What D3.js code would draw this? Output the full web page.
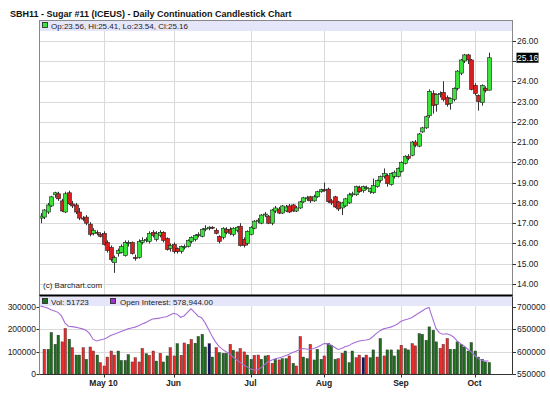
<!DOCTYPE html>
<html><head><meta charset="utf-8">
<script src="https://cdn.jsdelivr.net/npm/d3@7"></script>
<style>
body{margin:0;background:#fff}
svg{display:block}
text{font-family:"Liberation Sans",Arial,sans-serif}
</style>
</head><body>
<svg id="chart" width="550" height="394"></svg>
<script>
// ---------- DATA ----------
const opens  = [17.25,17.3,17.55,17.85,18.4,18.45,18.1,17.55,18.5,17.95,17.9,17.55,17.25,17.3,16.95,16.5,16.55,16.45,16.5,16.05,
15.8,15.05,15.5,15.55,15.4,16.0,16.05,15.3,15.3,16.05,16.15,16.1,16.55,16.2,16.4,16.55,16.25,15.75,15.95,15.75,
15.6,15.8,15.85,16.1,16.2,16.4,16.35,16.7,16.75,16.8,16.65,16.35,16.3,16.7,16.7,16.45,16.65,16.85,16.2,16.0,
16.45,16.75,17.1,17.0,17.4,17.35,17.0,17.6,17.7,17.5,17.6,17.85,17.9,17.6,17.75,18.05,18.2,18.3,18.1,18.3,
18.55,18.65,18.68,18.1,18.3,18.05,17.75,17.85,18.0,18.4,18.4,18.75,18.6,18.75,18.55,18.5,18.8,19.1,19.3,19.35,
18.9,19.3,19.3,19.55,19.95,20.3,20.35,21.0,20.8,21.5,21.7,22.3,23.4,22.85,23.35,23.45,23.2,22.9,23.1,23.65,
24.4,25.0,25.3,25.05,23.8,23.3,22.95,23.65,23.56];
const highs  = [17.5,17.7,18.0,18.35,18.55,18.55,18.2,18.55,18.6,18.1,18.0,17.75,17.35,17.4,17.05,16.75,16.65,16.55,16.6,16.15,
15.9,15.4,15.75,15.95,16.15,16.15,16.1,15.45,16.2,16.3,16.3,16.6,16.65,16.6,16.65,16.6,16.3,16.0,16.05,15.8,
15.9,15.95,16.2,16.35,16.45,16.55,16.75,16.9,16.85,16.85,16.75,16.4,16.8,16.8,16.8,16.8,16.85,17.0,16.3,16.65,
16.85,17.15,17.25,17.45,17.55,17.4,17.7,17.85,17.8,17.9,17.9,17.95,17.95,17.85,18.1,18.3,18.35,18.35,18.4,18.6,
18.7,19.0,18.75,18.2,18.35,18.1,18.05,18.25,18.5,18.55,18.85,18.85,18.85,18.85,18.75,19.2,19.15,19.35,19.7,19.45,
19.5,19.6,19.75,20.05,20.35,20.4,21.05,21.1,21.45,21.75,22.3,23.6,23.55,23.4,23.5,24.0,23.3,23.2,23.7,24.55,
25.1,25.35,25.35,25.1,23.9,23.35,23.85,23.75,25.41];
const lows   = [17.0,17.2,17.45,17.8,18.25,18.1,17.55,17.5,17.9,17.75,17.45,17.15,17.1,16.9,16.35,16.4,16.4,16.3,15.9,15.55,
15.1,14.55,15.35,15.5,15.35,15.85,15.45,15.15,15.25,15.95,16.05,16.0,16.3,16.1,16.3,16.05,15.65,15.6,15.5,15.5,
15.5,15.7,15.8,16.0,16.1,16.3,16.3,16.6,16.65,16.7,16.45,16.0,16.2,16.45,16.4,16.35,16.55,15.85,15.8,15.9,
16.4,16.7,17.0,16.95,17.3,16.95,16.9,17.5,17.45,17.45,17.55,17.5,17.55,17.55,17.7,18.0,18.1,18.0,18.05,18.25,
18.5,18.55,18.0,17.9,17.75,17.6,17.4,17.8,17.95,18.3,18.35,18.5,18.5,18.65,18.45,18.45,18.75,19.0,19.2,18.8,
18.85,19.2,19.25,19.5,19.9,20.1,20.3,20.75,20.75,21.45,21.65,22.2,22.4,22.5,23.2,23.0,22.75,22.6,23.0,23.55,
24.3,24.9,24.85,23.55,23.3,22.55,22.8,23.45,23.54];
const closes = [17.35,17.65,17.9,18.3,18.5,18.2,17.6,18.45,17.95,17.85,17.55,17.25,17.2,17.0,16.45,16.65,16.5,16.35,15.95,15.65,
15.2,15.3,15.65,15.85,16.05,16.05,15.5,15.25,16.1,16.15,16.2,16.5,16.4,16.5,16.55,16.15,15.7,15.9,15.6,15.6,
15.85,15.85,16.15,16.3,16.4,16.45,16.7,16.75,16.8,16.78,16.5,16.1,16.75,16.55,16.5,16.75,16.8,15.9,15.9,16.6,
16.8,17.1,17.15,17.4,17.45,17.0,17.65,17.75,17.5,17.85,17.8,17.55,17.6,17.75,18.05,18.25,18.25,18.1,18.3,18.55,
18.65,18.62,18.06,18.0,17.8,17.7,18.0,18.2,18.4,18.45,18.8,18.55,18.8,18.75,18.7,18.85,19.1,19.3,19.45,18.95,
19.45,19.5,19.7,20.0,20.3,20.2,21.0,20.85,21.4,21.7,22.25,23.5,22.8,23.35,23.4,23.1,22.85,23.15,23.65,24.5,
25.05,25.3,25.05,23.6,23.4,23.0,23.8,23.55,25.16];
// volume per bar (first bar has none); colour code: g = up, r = down, b = unchanged
const volumes = [null,111000,111000,186000,133000,174000,144000,204000,156000,118000,85000,85000,118000,66000,121000,103000,85000,51000,36000,76000,
103000,85000,103000,61000,61000,87000,54000,73000,54000,115000,91000,84000,103000,58000,93000,54000,81000,118000,81000,136000,
84000,139000,133000,155000,138000,168000,178000,121000,136000,76000,118000,96000,93000,93000,133000,106000,99000,114000,99000,85000,
66000,84000,85000,66000,81000,84000,48000,66000,63000,69000,69000,81000,48000,36000,168000,76000,69000,133000,63000,111000,
66000,81000,138000,129000,66000,69000,93000,103000,51000,103000,73000,85000,73000,85000,73000,108000,76000,159000,81000,108000,
108000,81000,108000,129000,114000,108000,136000,126000,181000,178000,151000,211000,196000,144000,115000,133000,159000,111000,111000,144000,
133000,121000,103000,141000,103000,76000,66000,54000,51723];
const volColors = "-rggggrrgrggrgrrgrrrrrggggrrrrgrrgrggrrgrrgrggggbgrgggrgrrrggrrggrrgrggrgrrggrgggrgggrrgggrrbrggrgrggggrggrrggggggrrrggg";
const openInterest = [702000,700000,698000,694000,691000,688000,680000,664000,657000,656000,655000,653000,651000,648000,641000,628000,624000,626000,628000,631000,
636000,639000,642000,645000,648000,651000,653000,655000,658000,662000,665000,669000,673000,674000,675000,677000,678000,682000,686000,684000,
677000,680000,688000,696000,688000,680000,676000,665000,650000,635000,622000,612000,605000,600000,596000,588000,582000,576000,570000,566000,
561000,559000,559000,564000,571000,577000,581000,584000,586000,588000,591000,594000,598000,601000,605000,607000,606000,605000,607000,610000,
614000,618000,618000,615000,610000,605000,607000,611000,613000,618000,621000,624000,625000,626000,628000,634000,641000,647000,651000,653000,
655000,658000,662000,668000,671000,673000,676000,681000,686000,691000,696000,699000,675000,652000,642000,639000,640000,638000,633000,624000,
618000,613000,606000,600000,592000,585000,581000,579000,578944];
const monthTickIndex = [18,38,60,81,103,124];
const monthTickLabels = ["May 10","Jun","Jul","Aug","Sep","Oct"];
const priceTicks = [14,15,16,17,18,19,20,21,22,23,24,25,26];
const volumeTicks = [0,100000,200000,300000];
const oiTicks = [550000,600000,650000,700000];
const titleText = "SBH11 - Sugar #11 (ICEUS) - Daily Continuation Candlestick Chart";
const ohlcLegend = "Op:23.56, Hi:25.41, Lo:23.54, Cl:25.16";
const volLegend = "Vol: 51723";
const oiLegend = "Open Interest: 578,944.00";
const lastPrice = 25.16;

// ---------- LAYOUT ----------
const svg = d3.select("#chart");
const L = 39.5, R = 512.5;
const mainTop = 20.5, mainBandBottom = 31, mainBottom = 295.5;
const volBandTop = 296.5, volBandBottom = 306, volBottom = 374.5;
const grid = "#dadada", band = "#e6e6fa", green = "#3be23b", red = "#d81f1f";
const N = closes.length;

const x = d3.scaleLinear().domain([0, N-1]).range([40.5, 488.5]);
const y = d3.scaleLinear().domain([14, 26]).range([284, 40.7]);
const yv = d3.scaleLinear().domain([0, 300000]).range([374, 307]);
const yo = d3.scaleLinear().domain([550000, 700000]).range([374, 307]);

svg.append("rect").attr("width",550).attr("height",394).attr("fill","#fff");

// title
svg.append("text").attr("x",10).attr("y",17).attr("font-size","9px").attr("font-weight","bold")
  .attr("fill","#111").text(titleText);

// ---------- MAIN PANEL ----------
const gMain = svg.append("g");
gMain.selectAll("line.hg").data(priceTicks).join("line").attr("class","hg")
  .attr("x1",L).attr("x2",R).attr("y1",d=>Math.round(y(d))+0.5).attr("y2",d=>Math.round(y(d))+0.5)
  .attr("stroke",grid).attr("stroke-width",1);
gMain.selectAll("line.vg").data(monthTickIndex).join("line").attr("class","vg")
  .attr("x1",d=>Math.round(x(d))+0.5).attr("x2",d=>Math.round(x(d))+0.5)
  .attr("y1",mainTop).attr("y2",mainBottom).attr("stroke",grid);

gMain.append("rect").attr("x",L).attr("y",mainTop).attr("width",R-L).attr("height",mainBandBottom-mainTop).attr("fill",band);

// candles
const cw = 3;
const candles = gMain.append("g").selectAll("g").data(d3.range(N)).join("g");
candles.append("line")
  .attr("x1",i=>Math.round(x(i))+0.5).attr("x2",i=>Math.round(x(i))+0.5)
  .attr("y1",i=>y(highs[i])).attr("y2",i=>y(lows[i]))
  .attr("stroke","#333").attr("stroke-width",1);
candles.append("rect")
  .attr("x",i=>Math.round(x(i))+0.5-cw/2-0.5).attr("width",cw+1)
  .attr("y",i=>y(Math.max(opens[i],closes[i])))
  .attr("height",i=>Math.max(1,Math.abs(y(opens[i])-y(closes[i]))))
  .attr("fill",i=>closes[i]>=opens[i]?green:red)
  .attr("stroke","#222").attr("stroke-width",0.6);

// right price axis (the tick label hidden under the last-price box is left out, as in the original)
const pa = svg.append("g");
const shownTicks = priceTicks.filter(d=>Math.abs(y(d)-y(lastPrice))>9);
pa.selectAll("line").data(priceTicks).join("line")
  .attr("x1",R).attr("x2",R+3.5).attr("y1",d=>Math.round(y(d))+0.5).attr("y2",d=>Math.round(y(d))+0.5).attr("stroke","#333");
pa.selectAll("text").data(shownTicks).join("text")
  .attr("x",R+4.5).attr("y",d=>y(d)+3).attr("font-size","8.5px").attr("fill","#222")
  .text(d=>d3.format(".2f")(d));
// last price marker
pa.append("rect").attr("x",R+4).attr("y",y(lastPrice)-5).attr("width",22).attr("height",10).attr("fill","#000");
pa.append("text").attr("x",R+4.5).attr("y",y(lastPrice)+3).attr("font-size","8.5px").attr("fill","#fff").text(d3.format(".2f")(lastPrice));

// legend of main
gMain.append("rect").attr("x",42.5).attr("y",22.5).attr("width",5).attr("height",5).attr("fill",green).attr("stroke","#222").attr("stroke-width",0.8);
gMain.append("text").attr("x",51).attr("y",29).attr("font-size","8px").attr("fill","#222").text(ohlcLegend);
gMain.append("text").attr("x",43).attr("y",288).attr("font-size","8px").attr("fill","#222").text("(c) Barchart.com");

// borders main
gMain.append("rect").attr("x",L).attr("y",mainTop).attr("width",R-L).attr("height",mainBottom-mainTop)
  .attr("fill","none").attr("stroke","#888");

// ---------- VOLUME PANEL ----------
const gv = svg.append("g");
gv.selectAll("line.hg").data([100000,200000]).join("line")
  .attr("x1",L).attr("x2",R).attr("y1",d=>Math.round(yv(d))+0.5).attr("y2",d=>Math.round(yv(d))+0.5).attr("stroke",grid);
gv.selectAll("line.vg").data(monthTickIndex).join("line")
  .attr("x1",d=>Math.round(x(d))+0.5).attr("x2",d=>Math.round(x(d))+0.5)
  .attr("y1",volBandBottom).attr("y2",volBottom).attr("stroke",grid);
gv.append("rect").attr("x",L).attr("y",volBandTop).attr("width",R-L).attr("height",volBandBottom-volBandTop).attr("fill",band);

const colorOf = {g:"#1e6e1e", r:"#ee2b2b", b:"#10106a"};
const vIdx = d3.range(N).filter(i=>volumes[i]!=null);
gv.append("g").selectAll("rect").data(vIdx).join("rect")
  .attr("x",i=>Math.round(x(i))-1).attr("width",2.6)
  .attr("y",i=>yv(volumes[i])).attr("height",i=>yv(0)-yv(volumes[i]))
  .attr("fill",i=>colorOf[volColors[i]]||"#1e6e1e").attr("stroke","#333").attr("stroke-width",0.4);

const oiLine = d3.line().x((d,i)=>x(i)).y(d=>yo(d));
gv.append("path").datum(openInterest).attr("d",oiLine).attr("fill","none").attr("stroke","#a66fd6").attr("stroke-width",1.1);

// volume legend
gv.append("rect").attr("x",42.5).attr("y",298.5).attr("width",5).attr("height",5).attr("fill","#1e6e1e").attr("stroke","#222").attr("stroke-width",0.8);
gv.append("text").attr("x",51).attr("y",305).attr("font-size","8px").attr("fill","#222").text(volLegend);
gv.append("rect").attr("x",110.5).attr("y",298.5).attr("width",5).attr("height",5).attr("fill","#9933cc").attr("stroke","#222").attr("stroke-width",0.8);
gv.append("text").attr("x",120).attr("y",305).attr("font-size","8px").attr("fill","#222").text(oiLegend);

// volume axes
gv.selectAll("text.vl").data(volumeTicks).join("text").attr("class","vl")
  .attr("x",L-3.5).attr("y",d=>yv(d)+3).attr("text-anchor","end").attr("font-size","8.5px").attr("fill","#222").text(d=>d);
gv.selectAll("line.vt").data(volumeTicks).join("line").attr("class","vt")
  .attr("x1",L-3).attr("x2",L).attr("y1",d=>Math.round(yv(d))+0.5).attr("y2",d=>Math.round(yv(d))+0.5).attr("stroke","#333");
gv.selectAll("text.ol").data(oiTicks).join("text").attr("class","ol")
  .attr("x",R+4.5).attr("y",d=>yo(d)+3).attr("font-size","8.5px").attr("fill","#222").text(d=>d);
gv.selectAll("line.ot").data(oiTicks).join("line").attr("class","ot")
  .attr("x1",R).attr("x2",R+3.5).attr("y1",d=>Math.round(yo(d))+0.5).attr("y2",d=>Math.round(yo(d))+0.5).attr("stroke","#333");

gv.append("line").attr("x1",L).attr("x2",R).attr("y1",volBottom).attr("y2",volBottom).attr("stroke","#333");
gv.append("line").attr("x1",L).attr("x2",L).attr("y1",volBandTop).attr("y2",volBottom).attr("stroke","#888");
gv.append("line").attr("x1",R).attr("x2",R).attr("y1",volBandTop).attr("y2",volBottom).attr("stroke","#333");

// month labels
gv.selectAll("text.ml").data(monthTickIndex).join("text").attr("class","ml")
  .attr("x",d=>x(d)).attr("y",386).attr("text-anchor","middle").attr("font-size","8.5px").attr("font-weight","bold")
  .attr("fill","#222").text((d,i)=>monthTickLabels[i]);
gv.selectAll("line.mt").data(monthTickIndex).join("line").attr("class","mt")
  .attr("x1",d=>Math.round(x(d))+0.5).attr("x2",d=>Math.round(x(d))+0.5).attr("y1",volBottom).attr("y2",volBottom+3).attr("stroke","#333");

// divider between panels
svg.append("line").attr("x1",L).attr("x2",R).attr("y1",295.5).attr("y2",295.5).attr("stroke","#000").attr("stroke-width",2);
</script>
</body></html>
